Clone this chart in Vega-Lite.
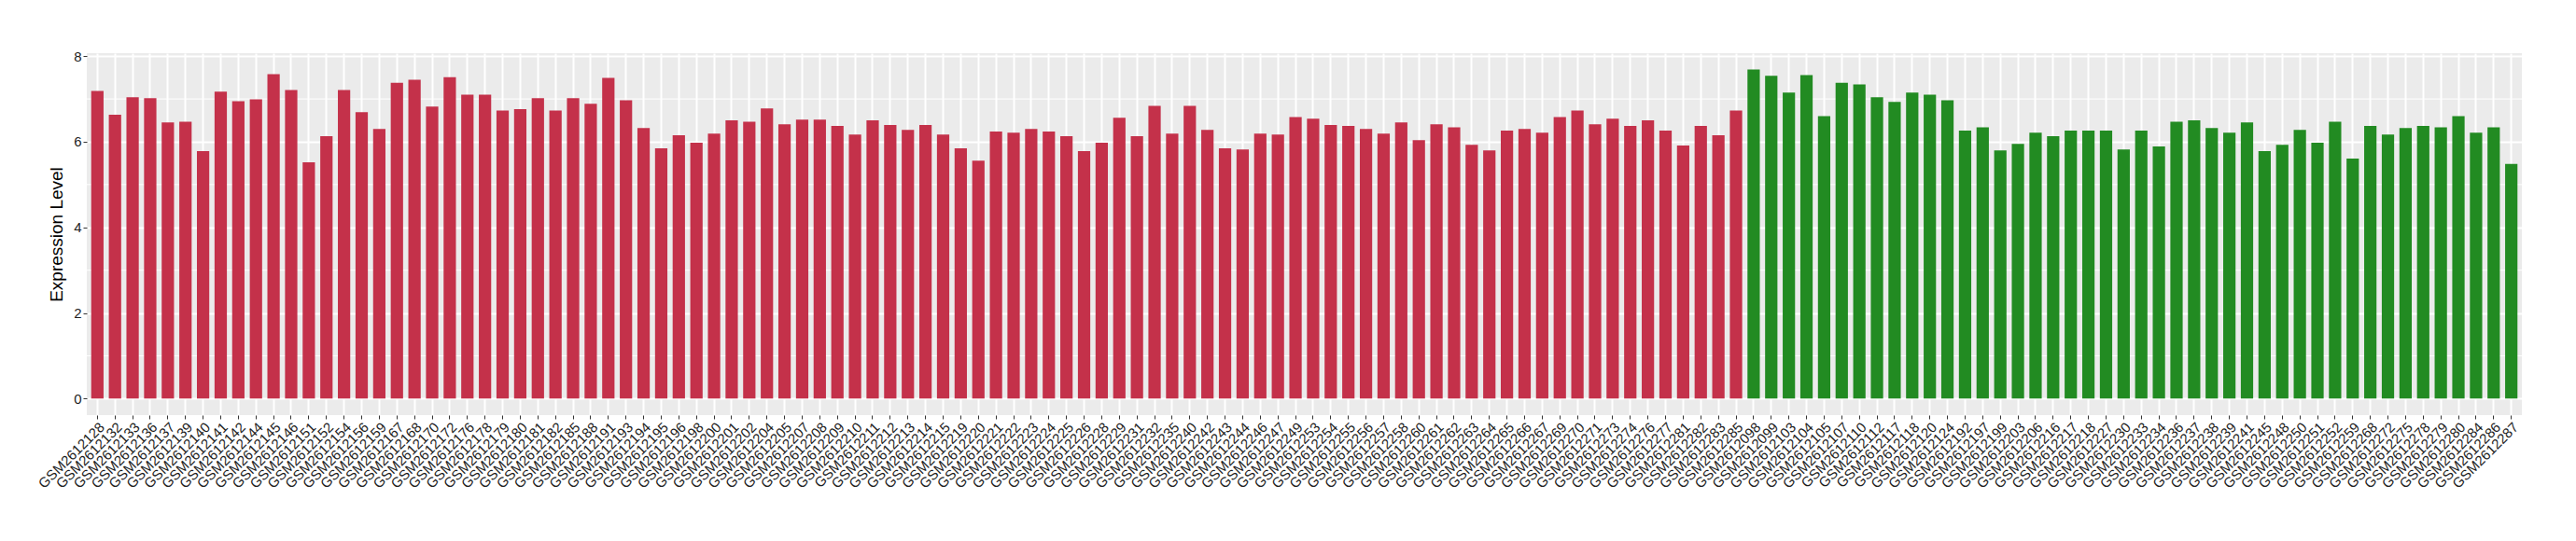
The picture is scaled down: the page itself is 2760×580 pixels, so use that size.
{
  "$schema": "https://vega.github.io/schema/vega-lite/v6.json",
  "autosize": "none",
  "width": 2609,
  "height": 388,
  "padding": {"left": 93, "top": 57, "right": 58, "bottom": 135},
  "background": "white",
  "config": {
    "view": {"fill": "#EBEBEB", "stroke": null},
    "font": "Liberation Sans",
    "axis": {
      "labelFont": "Liberation Sans",
      "titleFont": "Liberation Sans",
      "labelColor": "#1E1E1E",
      "labelFontSize": 15,
      "titleFontSize": 19,
      "titleFontWeight": "normal",
      "titleColor": "black",
      "tickColor": "#333333",
      "tickSize": 4,
      "tickWidth": 1,
      "domain": false,
      "gridColor": "white",
      "gridWidth": 2,
      "gridOpacity": 1
    }
  },
  "datasets": {
    "minor": [{"v": 1}, {"v": 3}, {"v": 5}, {"v": 7}],
    "expr": [
      {"sample": "GSM2612128", "value": 7.19, "group": "G1"},
      {"sample": "GSM2612132", "value": 6.63, "group": "G1"},
      {"sample": "GSM2612133", "value": 7.04, "group": "G1"},
      {"sample": "GSM2612136", "value": 7.02, "group": "G1"},
      {"sample": "GSM2612137", "value": 6.45, "group": "G1"},
      {"sample": "GSM2612139", "value": 6.47, "group": "G1"},
      {"sample": "GSM2612140", "value": 5.78, "group": "G1"},
      {"sample": "GSM2612141", "value": 7.17, "group": "G1"},
      {"sample": "GSM2612142", "value": 6.95, "group": "G1"},
      {"sample": "GSM2612144", "value": 6.99, "group": "G1"},
      {"sample": "GSM2612145", "value": 7.58, "group": "G1"},
      {"sample": "GSM2612146", "value": 7.21, "group": "G1"},
      {"sample": "GSM2612151", "value": 5.52, "group": "G1"},
      {"sample": "GSM2612152", "value": 6.13, "group": "G1"},
      {"sample": "GSM2612154", "value": 7.21, "group": "G1"},
      {"sample": "GSM2612156", "value": 6.69, "group": "G1"},
      {"sample": "GSM2612159", "value": 6.30, "group": "G1"},
      {"sample": "GSM2612167", "value": 7.38, "group": "G1"},
      {"sample": "GSM2612168", "value": 7.45, "group": "G1"},
      {"sample": "GSM2612170", "value": 6.82, "group": "G1"},
      {"sample": "GSM2612172", "value": 7.51, "group": "G1"},
      {"sample": "GSM2612176", "value": 7.10, "group": "G1"},
      {"sample": "GSM2612178", "value": 7.10, "group": "G1"},
      {"sample": "GSM2612179", "value": 6.73, "group": "G1"},
      {"sample": "GSM2612180", "value": 6.76, "group": "G1"},
      {"sample": "GSM2612181", "value": 7.02, "group": "G1"},
      {"sample": "GSM2612182", "value": 6.73, "group": "G1"},
      {"sample": "GSM2612185", "value": 7.02, "group": "G1"},
      {"sample": "GSM2612188", "value": 6.89, "group": "G1"},
      {"sample": "GSM2612191", "value": 7.49, "group": "G1"},
      {"sample": "GSM2612193", "value": 6.97, "group": "G1"},
      {"sample": "GSM2612194", "value": 6.32, "group": "G1"},
      {"sample": "GSM2612195", "value": 5.85, "group": "G1"},
      {"sample": "GSM2612196", "value": 6.15, "group": "G1"},
      {"sample": "GSM2612198", "value": 5.98, "group": "G1"},
      {"sample": "GSM2612200", "value": 6.19, "group": "G1"},
      {"sample": "GSM2612201", "value": 6.50, "group": "G1"},
      {"sample": "GSM2612202", "value": 6.47, "group": "G1"},
      {"sample": "GSM2612204", "value": 6.78, "group": "G1"},
      {"sample": "GSM2612205", "value": 6.41, "group": "G1"},
      {"sample": "GSM2612207", "value": 6.52, "group": "G1"},
      {"sample": "GSM2612208", "value": 6.52, "group": "G1"},
      {"sample": "GSM2612209", "value": 6.37, "group": "G1"},
      {"sample": "GSM2612210", "value": 6.17, "group": "G1"},
      {"sample": "GSM2612211", "value": 6.50, "group": "G1"},
      {"sample": "GSM2612212", "value": 6.39, "group": "G1"},
      {"sample": "GSM2612213", "value": 6.28, "group": "G1"},
      {"sample": "GSM2612214", "value": 6.39, "group": "G1"},
      {"sample": "GSM2612215", "value": 6.17, "group": "G1"},
      {"sample": "GSM2612219", "value": 5.85, "group": "G1"},
      {"sample": "GSM2612220", "value": 5.56, "group": "G1"},
      {"sample": "GSM2612221", "value": 6.24, "group": "G1"},
      {"sample": "GSM2612222", "value": 6.21, "group": "G1"},
      {"sample": "GSM2612223", "value": 6.30, "group": "G1"},
      {"sample": "GSM2612224", "value": 6.24, "group": "G1"},
      {"sample": "GSM2612225", "value": 6.13, "group": "G1"},
      {"sample": "GSM2612226", "value": 5.78, "group": "G1"},
      {"sample": "GSM2612228", "value": 5.98, "group": "G1"},
      {"sample": "GSM2612229", "value": 6.56, "group": "G1"},
      {"sample": "GSM2612231", "value": 6.13, "group": "G1"},
      {"sample": "GSM2612232", "value": 6.84, "group": "G1"},
      {"sample": "GSM2612235", "value": 6.19, "group": "G1"},
      {"sample": "GSM2612240", "value": 6.84, "group": "G1"},
      {"sample": "GSM2612242", "value": 6.28, "group": "G1"},
      {"sample": "GSM2612243", "value": 5.85, "group": "G1"},
      {"sample": "GSM2612244", "value": 5.82, "group": "G1"},
      {"sample": "GSM2612246", "value": 6.19, "group": "G1"},
      {"sample": "GSM2612247", "value": 6.17, "group": "G1"},
      {"sample": "GSM2612249", "value": 6.58, "group": "G1"},
      {"sample": "GSM2612253", "value": 6.54, "group": "G1"},
      {"sample": "GSM2612254", "value": 6.39, "group": "G1"},
      {"sample": "GSM2612255", "value": 6.37, "group": "G1"},
      {"sample": "GSM2612256", "value": 6.30, "group": "G1"},
      {"sample": "GSM2612257", "value": 6.19, "group": "G1"},
      {"sample": "GSM2612258", "value": 6.45, "group": "G1"},
      {"sample": "GSM2612260", "value": 6.04, "group": "G1"},
      {"sample": "GSM2612261", "value": 6.41, "group": "G1"},
      {"sample": "GSM2612262", "value": 6.34, "group": "G1"},
      {"sample": "GSM2612263", "value": 5.93, "group": "G1"},
      {"sample": "GSM2612264", "value": 5.80, "group": "G1"},
      {"sample": "GSM2612265", "value": 6.26, "group": "G1"},
      {"sample": "GSM2612266", "value": 6.30, "group": "G1"},
      {"sample": "GSM2612267", "value": 6.21, "group": "G1"},
      {"sample": "GSM2612269", "value": 6.58, "group": "G1"},
      {"sample": "GSM2612270", "value": 6.73, "group": "G1"},
      {"sample": "GSM2612271", "value": 6.41, "group": "G1"},
      {"sample": "GSM2612273", "value": 6.54, "group": "G1"},
      {"sample": "GSM2612274", "value": 6.37, "group": "G1"},
      {"sample": "GSM2612276", "value": 6.50, "group": "G1"},
      {"sample": "GSM2612277", "value": 6.26, "group": "G1"},
      {"sample": "GSM2612281", "value": 5.91, "group": "G1"},
      {"sample": "GSM2612282", "value": 6.37, "group": "G1"},
      {"sample": "GSM2612283", "value": 6.15, "group": "G1"},
      {"sample": "GSM2612285", "value": 6.73, "group": "G1"},
      {"sample": "GSM2612098", "value": 7.69, "group": "G2"},
      {"sample": "GSM2612099", "value": 7.54, "group": "G2"},
      {"sample": "GSM2612103", "value": 7.15, "group": "G2"},
      {"sample": "GSM2612104", "value": 7.56, "group": "G2"},
      {"sample": "GSM2612105", "value": 6.60, "group": "G2"},
      {"sample": "GSM2612107", "value": 7.38, "group": "G2"},
      {"sample": "GSM2612110", "value": 7.34, "group": "G2"},
      {"sample": "GSM2612112", "value": 7.04, "group": "G2"},
      {"sample": "GSM2612117", "value": 6.93, "group": "G2"},
      {"sample": "GSM2612118", "value": 7.15, "group": "G2"},
      {"sample": "GSM2612120", "value": 7.10, "group": "G2"},
      {"sample": "GSM2612124", "value": 6.97, "group": "G2"},
      {"sample": "GSM2612192", "value": 6.26, "group": "G2"},
      {"sample": "GSM2612197", "value": 6.34, "group": "G2"},
      {"sample": "GSM2612199", "value": 5.80, "group": "G2"},
      {"sample": "GSM2612203", "value": 5.95, "group": "G2"},
      {"sample": "GSM2612206", "value": 6.21, "group": "G2"},
      {"sample": "GSM2612216", "value": 6.13, "group": "G2"},
      {"sample": "GSM2612217", "value": 6.26, "group": "G2"},
      {"sample": "GSM2612218", "value": 6.26, "group": "G2"},
      {"sample": "GSM2612227", "value": 6.26, "group": "G2"},
      {"sample": "GSM2612230", "value": 5.82, "group": "G2"},
      {"sample": "GSM2612233", "value": 6.26, "group": "G2"},
      {"sample": "GSM2612234", "value": 5.89, "group": "G2"},
      {"sample": "GSM2612236", "value": 6.47, "group": "G2"},
      {"sample": "GSM2612237", "value": 6.50, "group": "G2"},
      {"sample": "GSM2612238", "value": 6.32, "group": "G2"},
      {"sample": "GSM2612239", "value": 6.21, "group": "G2"},
      {"sample": "GSM2612241", "value": 6.45, "group": "G2"},
      {"sample": "GSM2612245", "value": 5.78, "group": "G2"},
      {"sample": "GSM2612248", "value": 5.93, "group": "G2"},
      {"sample": "GSM2612250", "value": 6.28, "group": "G2"},
      {"sample": "GSM2612251", "value": 5.98, "group": "G2"},
      {"sample": "GSM2612252", "value": 6.47, "group": "G2"},
      {"sample": "GSM2612259", "value": 5.61, "group": "G2"},
      {"sample": "GSM2612268", "value": 6.37, "group": "G2"},
      {"sample": "GSM2612272", "value": 6.17, "group": "G2"},
      {"sample": "GSM2612275", "value": 6.32, "group": "G2"},
      {"sample": "GSM2612278", "value": 6.37, "group": "G2"},
      {"sample": "GSM2612279", "value": 6.34, "group": "G2"},
      {"sample": "GSM2612280", "value": 6.60, "group": "G2"},
      {"sample": "GSM2612284", "value": 6.21, "group": "G2"},
      {"sample": "GSM2612286", "value": 6.34, "group": "G2"},
      {"sample": "GSM2612287", "value": 5.48, "group": "G2"}
    ]
  },
  "layer": [
    {
      "data": {"name": "minor"},
      "mark": {"type": "rule", "color": "white", "strokeWidth": 1},
      "encoding": {
        "y": {"field": "v", "type": "quantitative", "scale": {"domain": [-0.385, 8.07], "nice": false, "zero": false}}
      }
    },
    {
      "data": {"name": "expr"},
      "mark": {"type": "bar"},
      "encoding": {
        "x": {
          "field": "sample",
          "type": "nominal",
          "sort": null,
          "scale": {"paddingInner": 0.3, "paddingOuter": 0.25},
          "axis": {
            "title": null,
            "labelAngle": -45,
            "labelAlign": "right",
            "labelBaseline": "top",
            "labelPadding": 1,
            "labelOverlap": false,
            "labelFontSize": 15,
            "bandPosition": 0.5,
            "grid": true
          }
        },
        "y": {
          "field": "value",
          "type": "quantitative",
          "scale": {"domain": [-0.385, 8.07], "nice": false, "zero": false},
          "axis": {
            "title": "Expression Level",
            "values": [0, 2, 4, 6, 8],
            "titlePadding": 8,
            "labelPadding": 2,
            "grid": true
          }
        },
        "y2": {"datum": 0},
        "color": {
          "field": "group",
          "type": "nominal",
          "scale": {"domain": ["G1", "G2"], "range": ["#C4314A", "#228B22"]},
          "legend": null
        }
      }
    }
  ]
}
